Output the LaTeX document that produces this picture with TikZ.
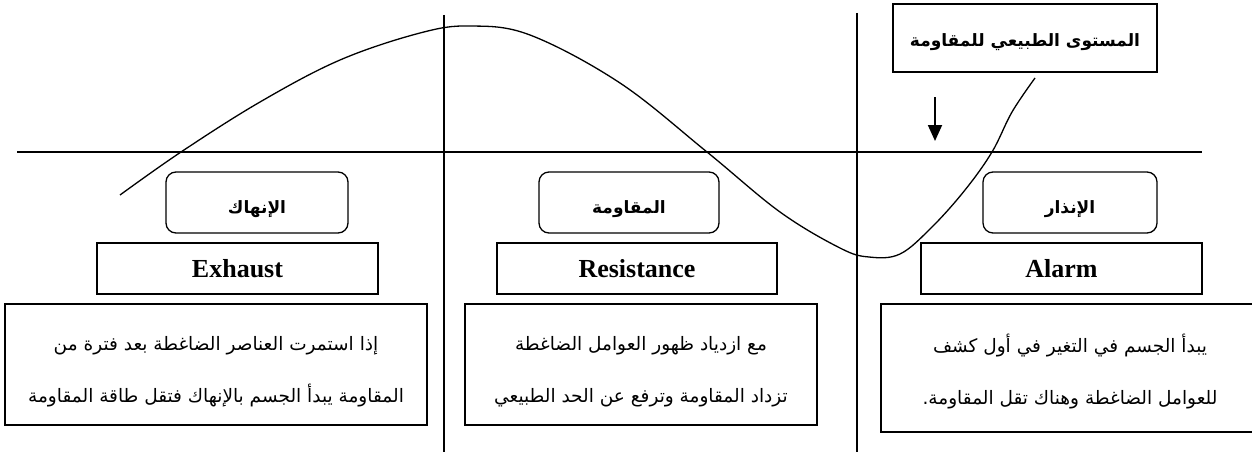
\documentclass[tikz,border=0pt]{standalone}
\usepackage{fontspec}
\setmainfont{Liberation Serif}
\newfontfamily\arabicfont[Script=Arabic]{DejaVu Sans}
\TeXXeTstate=1
\usetikzlibrary{arrows.meta}
\begin{document}
\begin{tikzpicture}[x=1pt,y=-1pt,
  axisline/.style={line width=1.1pt},
  curveline/.style={line width=1.3pt},
  titlebox/.style={draw, line width=1.3pt, rounded corners=10pt, inner sep=0pt, minimum height=61pt, text height=21pt, text depth=0pt, font=\arabicfont\bfseries\fontsize{17}{20}\selectfont},
  namebox/.style={draw, line width=1.3pt, inner sep=0pt, minimum height=51pt, font=\bfseries\fontsize{26}{30}\selectfont},
  descbox/.style={draw, line width=1.3pt, inner sep=0pt},
  desctext/.style={inner sep=0pt, align=center, font=\arabicfont\fontsize{18.5}{52}\selectfont},
  topbox/.style={draw, line width=1.3pt, inner sep=0pt, minimum width=264pt, minimum height=68pt, text height=18pt, text depth=0pt, font=\arabicfont\bfseries\fontsize{17}{22}\selectfont}
]
\useasboundingbox (0,0) rectangle (1252,452);
% axes
\coordinate (hL) at (17,152);
\coordinate (hR) at (1202,152);
\coordinate (v1T) at (444,15);
\coordinate (v1B) at (444,452);
\coordinate (v2T) at (857,13);
\coordinate (v2B) at (857,452);
\draw[axisline] (hL) -- (hR);
\draw[axisline] (v1T) -- (v1B);
\draw[axisline] (v2T) -- (v2B);
% curve
\draw[curveline] plot[smooth, tension=0.6] coordinates {(120,195) (181,152) (260,102) (340,60) (420,33) (470,26) (530,35) (620,83) (707,152) (780,212) (840,248) (869,257) (900,254) (932,227) (965,190) (992,152) (1012,112) (1035,78)};
% top box and arrow
\node[topbox] (normal) at (1025,38) {\beginR المستوى الطبيعي للمقاومة\endR};
\coordinate (arrS) at (935,97);
\coordinate (arrE) at (935,141);
\draw[line width=1.8pt, -{Triangle[length=16pt,width=14pt]}] (arrS) -- (arrE);
% titles
\node[titlebox, minimum width=182pt] (tEx) at (257,202.5) {\beginR الإنهاك\endR};
\node[titlebox, minimum width=180pt] (tRe) at (629,202.5) {\beginR المقاومة\endR};
\node[titlebox, minimum width=174pt] (tAl) at (1070,202.5) {\beginR الإنذار\endR};
% names
\node[namebox, minimum width=281pt] (nEx) at (237.5,268.5) {Exhaust};
\node[namebox, minimum width=280pt] (nRe) at (637,268.5) {Resistance};
\node[namebox, minimum width=281pt] (nAl) at (1061.5,268.5) {Alarm};
% descriptions
\node[descbox, minimum width=422pt, minimum height=121pt] (dEx) at (216,364.5) {};
\node[descbox, minimum width=352pt, minimum height=121pt] (dRe) at (641,364.5) {};
\node[descbox, minimum width=378pt, minimum height=128pt] (dAl) at (1070,368) {};
\node[desctext] (dExT) at (216,371.5) {\beginR إذا استمرت العناصر الضاغطة بعد فترة من\endR\\\beginR المقاومة يبدأ الجسم بالإنهاك فتقل طاقة المقاومة\endR};
\node[desctext] (dReT) at (641,371.5) {\beginR مع ازدياد ظهور العوامل الضاغطة\endR\\\beginR تزداد المقاومة وترفع عن الحد الطبيعي\endR};
\node[desctext] (dAlT) at (1070,372) {\beginR يبدأ الجسم في التغير في أول كشف\endR\\\beginR للعوامل الضاغطة وهناك تقل المقاومة.\endR};
\end{tikzpicture}
\end{document}
